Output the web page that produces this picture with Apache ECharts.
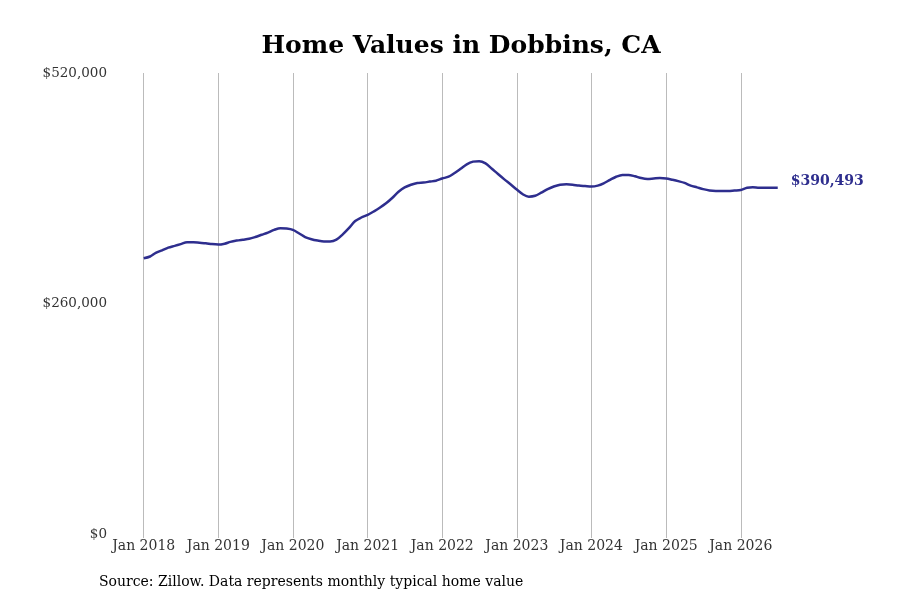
<!DOCTYPE html>
<html>
<head>
<meta charset="utf-8">
<script src="https://cdn.jsdelivr.net/npm/echarts@6/dist/echarts.min.js"></script>
<style>
html,body{margin:0;padding:0;background:#fff;}
#chart{width:900px;height:600px;}
</style>
</head>
<body>
<div id="chart"></div>
<script>
const titleText = 'Home Values in Dobbins, CA';
const sourceText = 'Source: Zillow. Data represents monthly typical home value';
const startYear = 2018;
const yTicks = [0, 260000, 520000];
const values2018 = [311000, 313000, 317000, 320000, 323000, 325000, 327000, 329000, 329000, 328500, 328000, 327000];
const values2019 = [326500, 327500, 329500, 331000, 332000, 333000, 335000, 337500, 340000, 343000, 345000, 344500];
const values2020 = [343000, 339000, 335000, 332500, 331000, 330000, 330000, 332000, 338000, 345000, 353000, 357000];
const values2021 = [360000, 364000, 368000, 373000, 379000, 386000, 391000, 394000, 396000, 396500, 397500, 398500];
const values2022 = [401000, 403000, 407000, 412000, 417000, 420000, 420500, 418000, 412000, 406000, 400000, 394500];
const values2023 = [388500, 383000, 380500, 381500, 385000, 389000, 392000, 394000, 394500, 394000, 393000, 392500];
const values2024 = [392000, 393000, 395500, 399500, 403000, 405000, 405000, 403500, 401500, 400500, 401000, 401500];
const values2025 = [401000, 399500, 398000, 396000, 393000, 391000, 389000, 387500, 387000, 387000, 387000, 387500];
const values2026 = [388000, 390500, 391000, 390500, 390500, 390500, 390493];

const yearly = [values2018, values2019, values2020, values2021, values2022, values2023, values2024, values2025, values2026];
const data = [];
yearly.forEach((arr, yi) => {
  arr.forEach((v, m) => {
    data.push([Date.UTC(startYear + yi, m, 1), v]);
  });
});

const lineColor = '#2e2e8e';
const fontFam = 'DejaVu Serif';
const chart = echarts.init(document.getElementById('chart'));
const money = v => '$' + v.toLocaleString('en-US');
const monthNames = ['Jan','Feb','Mar','Apr','May','Jun','Jul','Aug','Sep','Oct','Nov','Dec'];

chart.setOption({
  animation: false,
  backgroundColor: '#fff',
  title: {
    text: titleText,
    left: 456, top: 29, textAlign: 'center',
    textStyle: { fontFamily: fontFam, fontWeight: 'bold', fontSize: 25, color: '#000' }
  },
  graphic: [{
    type: 'text', left: 99, top: 575,
    style: { text: sourceText, fontFamily: fontFam, fontSize: 14, fill: '#000' }
  }],
  grid: { left: 110, right: 91, top: 73, bottom: 66, containLabel: false },
  xAxis: {
    type: 'time',
    min: Date.UTC(2017, 6, 20),
    max: Date.UTC(2026, 11, 1),
    splitNumber: 10,
    axisLine: { show: false },
    axisTick: { show: true, length: 4, lineStyle: { color: '#bbb' } },
    splitLine: { show: true, showMinLine: false, showMaxLine: false, lineStyle: { color: '#bbb', width: 1 } },
    axisLabel: {
      fontFamily: fontFam, fontSize: 14, color: '#333', margin: 5,
      showMinLabel: false, showMaxLabel: false,
      formatter: function (val) {
        const d = new Date(val);
        return monthNames[d.getUTCMonth()] + ' ' + d.getUTCFullYear();
      }
    }
  },
  yAxis: {
    type: 'value',
    min: yTicks[0], max: yTicks[2], interval: yTicks[1],
    axisLine: { show: false },
    axisTick: { show: false },
    splitLine: { show: false },
    axisLabel: {
      fontFamily: fontFam, fontSize: 13.5, color: '#333', margin: 3,
      verticalAlign: 'middle',
      formatter: money
    }
  },
  series: [{
    type: 'line',
    data: data,
    smooth: 0.3,
    showSymbol: false,
    lineStyle: { color: lineColor, width: 2.5 },
    endLabel: {
      show: true,
      formatter: p => money(p.value[1]),
      fontFamily: fontFam, fontWeight: 'bold', fontSize: 14,
      color: lineColor, distance: 13, offset: [0, -6]
    }
  }]
});
</script>
</body>
</html>
